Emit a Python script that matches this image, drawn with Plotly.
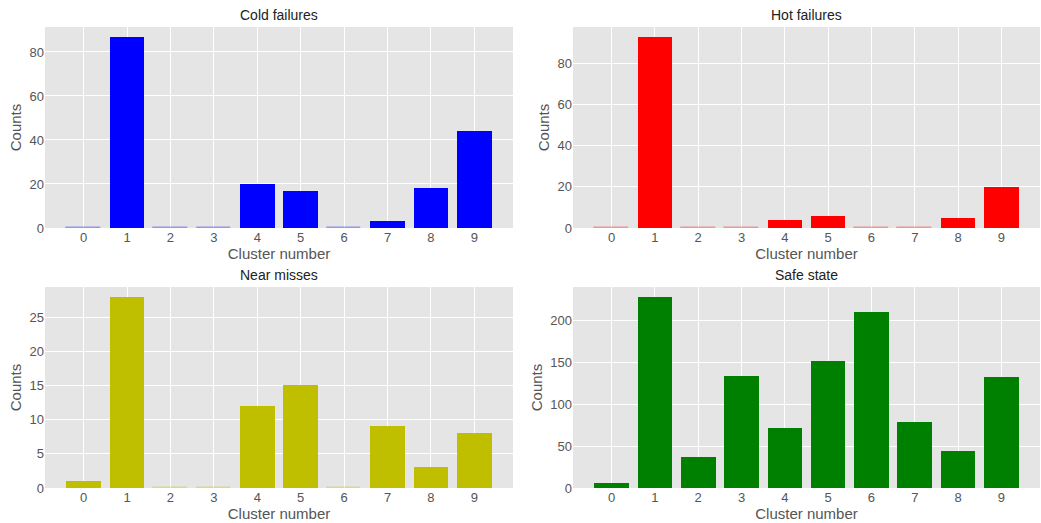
import plotly.graph_objects as go

clusters = [0, 1, 2, 3, 4, 5, 6, 7, 8, 9]
cluster_labels = ["0", "1", "2", "3", "4", "5", "6", "7", "8", "9"]
cold_failures = [0, 87, 0, 0, 20, 17, 0, 3, 18, 44]
hot_failures = [0, 93, 0, 0, 4, 6, 0, 0, 5, 20]
near_misses = [1, 28, 0, 0, 12, 15, 0, 9, 3, 8]
safe_state = [6, 229, 37, 134, 72, 152, 210, 79, 44, 133]

panels = [
    ("Cold failures", cold_failures, "#0000FF", "rgba(0,0,255,0.35)", [0, 80, 20]),
    ("Hot failures", hot_failures, "#FF0000", "rgba(255,0,0,0.35)", [0, 80, 20]),
    ("Near misses", near_misses, "#BFBF00", "rgba(191,191,0,0.35)", [0, 25, 5]),
    ("Safe state", safe_state, "#008000", "rgba(0,128,0,0.35)", [0, 200, 50]),
]

W, H = 1041, 523
xdoms = [[45 / W, 513 / W], [573 / W, 1040 / W]]
ydoms = [[1 - 228 / H, 1 - 27 / H], [1 - 488 / H, 1 - 287 / H]]

fig = go.Figure()
font_fam = "Liberation Sans, Arial, sans-serif"
annotations = []
for i, (title, vals, col, zcol, tk) in enumerate(panels):
    r, c = divmod(i, 2)
    n = i + 1
    xa = "x" if n == 1 else f"x{n}"
    ya = "y" if n == 1 else f"y{n}"
    line_cols = [zcol if v == 0 else col for v in vals]
    line_w = [1.5 if v == 0 else 0 for v in vals]
    fig.add_trace(go.Bar(
        x=clusters, y=vals, width=0.8,
        marker=dict(color=col, line=dict(color=line_cols, width=line_w)),
        xaxis=xa, yaxis=ya, showlegend=False, hoverinfo="skip",
    ))
    ymax = max(vals) * 1.05
    axis_common = dict(
        showgrid=True, gridcolor="white", gridwidth=1, zeroline=False,
        showline=False, ticks="", automargin=False,
        tickfont=dict(size=13, color="#555555", family=font_fam),
    )
    fig.update_layout(**{
        ("xaxis" if n == 1 else f"xaxis{n}"): dict(
            domain=xdoms[c], anchor=ya, range=[-0.89, 9.89],
            tickmode="array", tickvals=clusters, ticktext=cluster_labels,
            title=dict(text="Cluster number", font=dict(size=15, color="#555555", family=font_fam), standoff=2),
            **axis_common),
        ("yaxis" if n == 1 else f"yaxis{n}"): dict(
            domain=ydoms[r], anchor=xa, range=[0, ymax],
            tickmode="linear", tick0=tk[0], dtick=tk[2],
            title=dict(text="Counts", font=dict(size=15, color="#555555", family=font_fam), standoff=4),
            **axis_common),
    })
    annotations.append(dict(
        text=title, x=(xdoms[c][0] + xdoms[c][1]) / 2, y=ydoms[r][1],
        xref="paper", yref="paper", xanchor="center", yanchor="bottom", yshift=2,
        showarrow=False, font=dict(size=14, color="#222222", family=font_fam),
    ))

fig.update_layout(
    width=W, height=H, margin=dict(l=0, r=0, t=0, b=0),
    paper_bgcolor="white", plot_bgcolor="#E5E5E5",
    bargap=0, annotations=annotations,
    font=dict(family=font_fam),
)
fig.write_html(
    "out.html",
    config={"displayModeBar": False},
    post_script="document.body.style.margin='0';document.body.style.overflow='hidden';",
)
